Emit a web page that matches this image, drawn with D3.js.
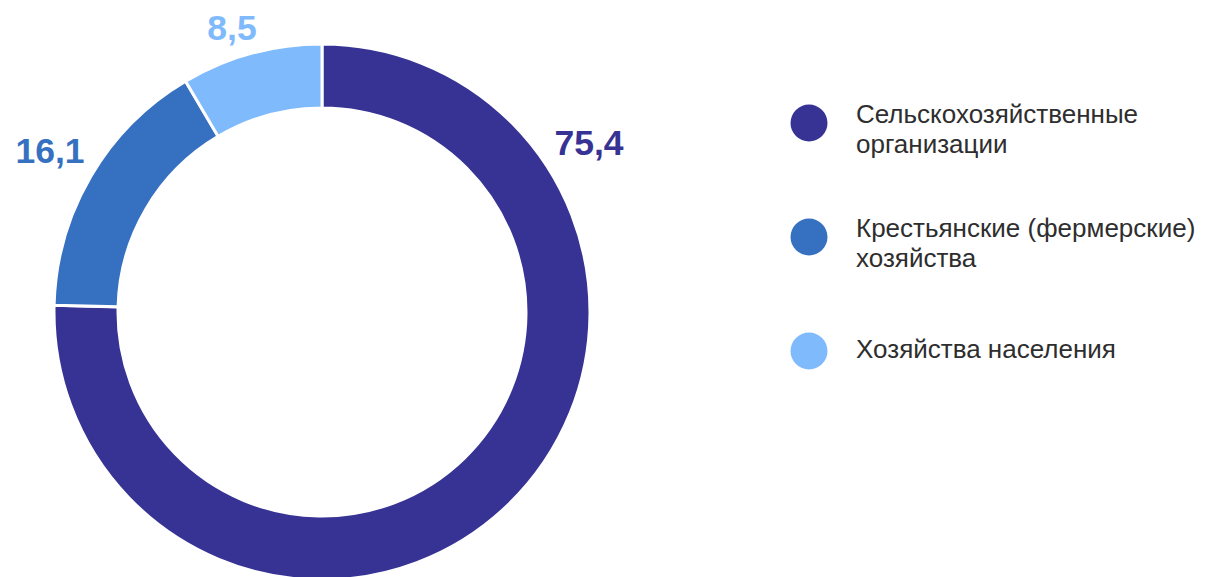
<!DOCTYPE html>
<html><head><meta charset="utf-8">
<script src="https://cdn.jsdelivr.net/npm/d3@7"></script>
<style>html,body{margin:0;padding:0;background:#fff;}svg{display:block;}</style>
</head><body>
<svg id="chart" width="1206" height="577"></svg>
<script>
const categories = ["Сельскохозяйственные организации", "Крестьянские (фермерские) хозяйства", "Хозяйства населения"];
const legendLines = [["Сельскохозяйственные", "организации"], ["Крестьянские (фермерские)", "хозяйства"], ["Хозяйства населения"]];
const values = [75.4, 16.1, 8.5];
const valueLabels = ["75,4", "16,1", "8,5"];
const colors = ["#363394", "#3670C1", "#7FBAFC"];

const svg = d3.select("#chart");
const cx = 322, cy = 312, rOuter = 268, rInner = 204;
const g = svg.append("g").attr("transform", `translate(${cx},${cy})`);

const pie = d3.pie().sort(null).value(d => d)(values);
const arc = d3.arc().innerRadius(rInner).outerRadius(rOuter);

g.selectAll("path").data(pie).join("path")
  .attr("d", arc)
  .attr("fill", (d, i) => colors[i])
  .attr("stroke", "#fff")
  .attr("stroke-width", 3);

// value label offsets relative to donut centre
const labelX = [267, -272, -90];
const labelY = [-157, -149, -272];
g.selectAll("text.val").data(pie).join("text")
  .attr("class", "val")
  .attr("x", (d, i) => labelX[i])
  .attr("y", (d, i) => labelY[i])
  .attr("text-anchor", "middle")
  .attr("font-family", "Liberation Sans, Arial, sans-serif")
  .attr("font-weight", "bold")
  .attr("font-size", 35.5)
  .attr("fill", (d, i) => colors[i])
  .text((d, i) => valueLabels[i]);

// legend
const legY = [123, 237, 351];
const leg = svg.append("g");
const items = leg.selectAll("g").data(categories).join("g")
  .attr("transform", (d, i) => `translate(809,${legY[i]})`);
items.append("circle").attr("r", 18.5).attr("fill", (d, i) => colors[i]);
items.each(function(d, i) {
  const lines = legendLines[i];
  const t = d3.select(this).append("text")
    .attr("font-family", "Liberation Sans, Arial, sans-serif")
    .attr("font-size", 26)
    .attr("fill", "#2e2e2e");
  const base = lines.length > 1 ? 0 : 7;
  lines.forEach((ln, k) => {
    t.append("tspan").attr("x", 47).attr("y", base + k * 29.5).text(ln);
  });
});
</script>
</body></html>
